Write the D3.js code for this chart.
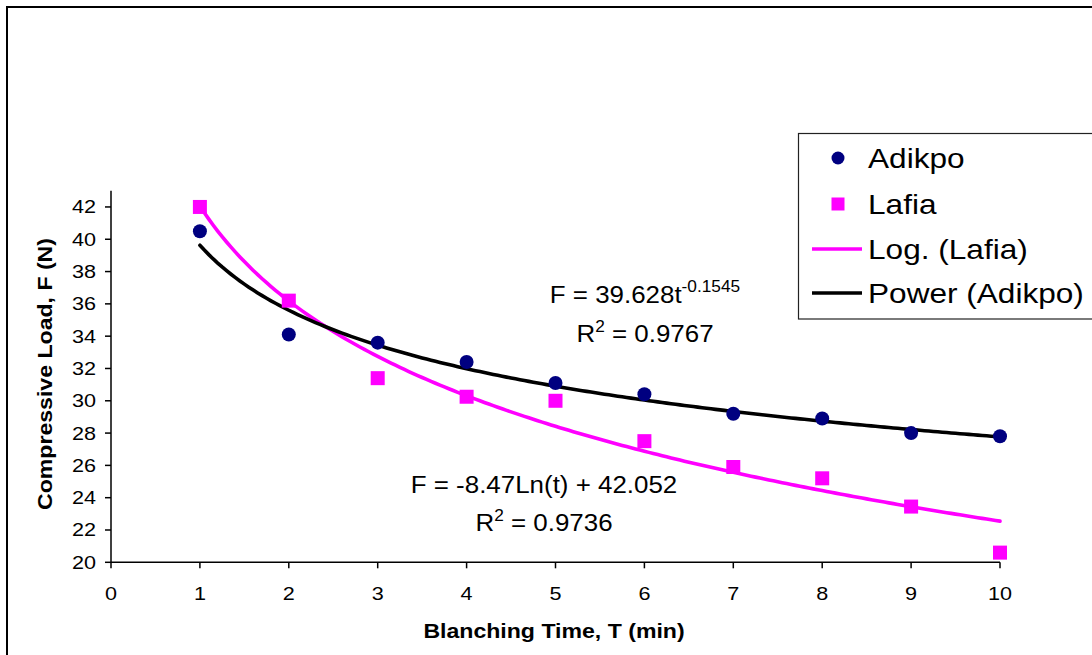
<!DOCTYPE html>
<html>
<head>
<meta charset="utf-8">
<script src="https://cdn.jsdelivr.net/npm/d3@7"></script>
<style>
  body { margin: 0; background: #fff; }
  svg text { font-family: "Liberation Sans", Arial, sans-serif; fill: #000; }
</style>
</head>
<body>
<div id="chart"></div>
<script>
// data
var times = [1, 2, 3, 4, 5, 6, 7, 8, 9, 10];
var adikpo = [40.5, 34.1, 33.6, 32.4, 31.1, 30.4, 29.2, 28.9, 28.0, 27.8];
var lafia = [42.0, 36.2, 31.4, 30.25, 30.0, 27.5, 25.9, 25.2, 23.45, 20.6];

var xTicks = [0, 1, 2, 3, 4, 5, 6, 7, 8, 9, 10];
var yTicks = [20, 22, 24, 26, 28, 30, 32, 34, 36, 38, 40, 42];

// trendline coefficients, as printed on the chart
var powerCoef = [39.628, -0.1545];   // F = a * t^b
var logCoef = [-8.47, 42.052];       // F = a * ln(t) + b
var r2 = ["0.9767", "0.9736"];

var legendNames = ["Adikpo", "Lafia", "Log. (Lafia)", "Power (Adikpo)"];

renderChart();

function renderChart() {
  var width = 1092, height = 655;

  var svg = d3.select("#chart").append("svg")
      .attr("width", width)
      .attr("height", height);

  // outer chart frame (runs off the right and bottom edge)
  svg.append("rect")
      .attr("x", 7).attr("y", 7)
      .attr("width", 1200).attr("height", 800)
      .attr("fill", "none")
      .attr("stroke", "#000")
      .attr("stroke-width", 2);

  var x = d3.scaleLinear().domain([0, 10]).range([111, 1000]);
  var y = d3.scaleLinear().domain([20, 43]).range([562.3, 190.8]);

  // stretched text helper
  function label(g, px, py, str, size, sx, anchor, weight) {
    return g.append("text")
        .attr("transform", "translate(" + px + "," + py + ") scale(" + sx + ",1)")
        .attr("text-anchor", anchor || "start")
        .attr("font-size", size)
        .attr("font-weight", weight || "normal")
        .text(str);
  }

  // axes
  var axes = svg.append("g").attr("stroke", "#000").attr("stroke-width", 1.5);
  axes.append("line")
      .attr("x1", x(0)).attr("x2", x(0))
      .attr("y1", y(43)).attr("y2", y(20));
  axes.append("line")
      .attr("x1", x(0)).attr("x2", x(10))
      .attr("y1", y(20)).attr("y2", y(20));

  axes.selectAll(".ytick").data(yTicks).enter().append("line")
      .attr("x1", x(0) - 6).attr("x2", x(0))
      .attr("y1", function(d) { return y(d); })
      .attr("y2", function(d) { return y(d); });
  axes.selectAll(".xtick").data(xTicks).enter().append("line")
      .attr("x1", function(d) { return x(d); })
      .attr("x2", function(d) { return x(d); })
      .attr("y1", y(20)).attr("y2", y(20) + 6);

  var lab = svg.append("g");
  yTicks.forEach(function(d) {
    label(lab, 96, y(d) + 6.5, d, 18, 1.2, "end");
  });
  xTicks.forEach(function(d) {
    label(lab, x(d), 600, d, 18, 1.2, "middle");
  });

  // axis titles
  label(lab, 554, 638, "Blanching Time, T (min)", 21, 1.1, "middle", "bold");
  lab.append("text")
      .attr("transform", "translate(52,374) rotate(-90) scale(1.1,1)")
      .attr("text-anchor", "middle")
      .attr("font-size", 21)
      .attr("font-weight", "bold")
      .text("Compressive Load, F (N)");

  // trendlines
  var tLine = d3.range(1, 10.001, 0.05);
  var line = d3.line()
      .x(function(d) { return x(d[0]); })
      .y(function(d) { return y(d[1]); });

  svg.append("path")
      .datum(tLine.map(function(t) { return [t, logCoef[0] * Math.log(t) + logCoef[1]]; }))
      .attr("d", line)
      .attr("fill", "none")
      .attr("stroke", "#ff00ff")
      .attr("stroke-width", 3.6)
      .attr("stroke-linecap", "round");

  svg.append("path")
      .datum(tLine.map(function(t) { return [t, powerCoef[0] * Math.pow(t, powerCoef[1])]; }))
      .attr("d", line)
      .attr("fill", "none")
      .attr("stroke", "#000")
      .attr("stroke-width", 3.6)
      .attr("stroke-linecap", "round");

  // markers
  svg.append("g").selectAll("circle")
      .data(times).enter().append("circle")
      .attr("cx", function(d) { return x(d); })
      .attr("cy", function(d, i) { return y(adikpo[i]); })
      .attr("r", 7)
      .attr("fill", "#000080");

  svg.append("g").selectAll("rect")
      .data(times).enter().append("rect")
      .attr("x", function(d) { return x(d) - 7; })
      .attr("y", function(d, i) { return y(lafia[i]) - 7; })
      .attr("width", 14).attr("height", 14)
      .attr("fill", "#ff00ff");

  // equation labels
  var eq = svg.append("g");
  var e1 = label(eq, 645, 303, "", 24, 1.08, "middle");
  e1.append("tspan").text("F = " + powerCoef[0] + "t");
  e1.append("tspan").attr("font-size", 16).attr("dy", -11).text(powerCoef[1]);

  var e2 = label(eq, 645, 342, "", 24, 1.08, "middle");
  e2.append("tspan").text("R");
  e2.append("tspan").attr("font-size", 16).attr("dy", -10).text("2");
  e2.append("tspan").attr("dy", 10).text(" = " + r2[0]);

  var e3 = label(eq, 544, 493, "", 24, 1.08, "middle");
  e3.append("tspan").text("F = " + logCoef[0] + "Ln(t) + " + logCoef[1]);

  var e4 = label(eq, 544, 531, "", 24, 1.08, "middle");
  e4.append("tspan").text("R");
  e4.append("tspan").attr("font-size", 16).attr("dy", -10).text("2");
  e4.append("tspan").attr("dy", 10).text(" = " + r2[1]);

  // legend
  var leg = svg.append("g");
  leg.append("rect")
      .attr("x", 798.5).attr("y", 133.5)
      .attr("width", 400).attr("height", 185.5)
      .attr("fill", "#fff")
      .attr("stroke", "#222")
      .attr("stroke-width", 1.2);

  var rowY = [158, 204, 249, 293];
  leg.append("circle").attr("cx", 838).attr("cy", rowY[0]).attr("r", 6.5).attr("fill", "#000080");
  leg.append("rect").attr("x", 831.5).attr("y", rowY[1] - 6.5).attr("width", 13).attr("height", 13).attr("fill", "#ff00ff");
  leg.append("line").attr("x1", 812).attr("x2", 862).attr("y1", rowY[2]).attr("y2", rowY[2])
      .attr("stroke", "#ff00ff").attr("stroke-width", 3.6);
  leg.append("line").attr("x1", 812).attr("x2", 862).attr("y1", rowY[3]).attr("y2", rowY[3])
      .attr("stroke", "#000").attr("stroke-width", 3.6);

  legendNames.forEach(function(n, i) {
    label(leg, 868, rowY[i] + 9.5, n, 27, 1.17, "start");
  });
}
</script>
</body>
</html>
